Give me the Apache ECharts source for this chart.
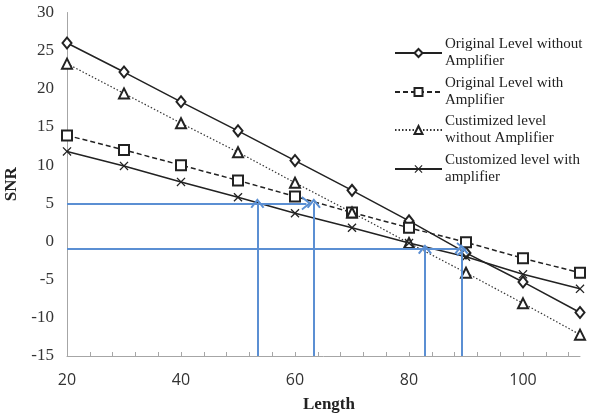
<!DOCTYPE html>
<html>
<head>
<meta charset="utf-8">
<script src="https://cdn.jsdelivr.net/npm/echarts@6/dist/echarts.min.js"></script>
<style>
  html, body { margin: 0; padding: 0; background: #fff; }
  #main { width: 591px; height: 414px; }
</style>
</head>
<body>
<div id="main"></div>
<script>
// lengths on the x axis
var lengths = [20, 30, 40, 50, 60, 70, 80, 90, 100, 110];

// SNR per series
var origNoAmp   = [26.0, 22.2, 18.3, 14.5, 10.6, 6.7, 2.7, -1.5, -5.3, -9.3];
var origAmp     = [13.9, 12.0, 10.0, 8.0, 5.9, 3.8, 1.8, -0.1, -2.2, -4.1];
var custNoAmp   = [23.3, 19.4, 15.5, 11.7, 7.7, 3.8, -0.2, -4.1, -8.1, -12.2];
var custAmp     = [11.8, 9.9, 7.8, 5.8, 3.7, 1.8, -0.2, -2.0, -4.3, -6.2];

var seriesNames = [
  'Original Level without\nAmplifier',
  'Original Level with\nAmplifier',
  'Custimized level\nwithout Amplifier',
  'Customized level with\namplifier'
];

// blue guide arrows: SNR levels and the lengths where they cross
var guideLevels = [5, -1];
var guideEnds = [62.0, 89.2];           // where the horizontal arrows stop
var crossAt5 = [53.4, 63.3];
var crossAtMinus1 = [82.8, 89.2];
var yBottom = -15;

function pairs(ys) {
  return lengths.map(function (x, i) { return [x, ys[i]]; });
}

// open "V" arrow head, pointing up
var chevron = 'path://M0,7 L6,0 L12,7 L10.6,7.8 L6,2.6 L1.4,7.8 Z';
var crossPath = 'path://M0,1 L1,0 L5,4 L9,0 L10,1 L6,5 L10,9 L9,10 L5,6 L1,10 L0,9 L4,5 Z';

var guideData = [];
guideLevels.forEach(function (lv, i) {
  guideData.push([{ coord: [20, lv] }, { coord: [guideEnds[i], lv] }]);
});
crossAt5.forEach(function (x) {
  guideData.push([{ coord: [x, yBottom] }, { coord: [x, guideLevels[0]] }]);
});
crossAtMinus1.forEach(function (x) {
  guideData.push([{ coord: [x, yBottom] }, { coord: [x, guideLevels[1]] }]);
});

var myChart = echarts.init(document.getElementById('main'));

function legendAt(name, top) {
  return {
    data: [name],
    left: 394,
    top: top,
    orient: 'vertical',
    itemWidth: 47,
    itemHeight: 10,
    itemGap: 0,
    padding: 0,
    selectedMode: false,
    textStyle: {
      fontFamily: 'Liberation Serif',
      fontSize: 15,
      color: '#222',
      lineHeight: 17,
      padding: [16, 0, 0, -2]
    }
  };
}

var lineBase = {
  type: 'line',
  color: '#222',
  symbolSize: 9,
  itemStyle: { color: '#222', borderWidth: 1.4 },
  z: 3
};

var option = {
  animation: false,
  backgroundColor: '#fff',
  grid: { left: 67, right: 11, top: 12.5, bottom: 58, containLabel: false, outerBoundsMode: 'none' },
  legend: [
    legendAt(seriesNames[0], 28),
    legendAt(seriesNames[1], 67),
    legendAt(seriesNames[2], 105),
    legendAt(seriesNames[3], 144)
  ],
  xAxis: {
    type: 'value',
    min: 20,
    max: 110,
    interval: 4,
    name: 'Length',
    nameLocation: 'middle',
    nameGap: 40,
    nameTextStyle: { fontFamily: 'Liberation Serif', fontWeight: 'bold', fontSize: 17, color: '#222', padding: [0, 0, 0, 11] },
    axisLine: { onZero: false, lineStyle: { color: '#a6a6a6' } },
    axisTick: { inside: true, length: 4, lineStyle: { color: '#a6a6a6' } },
    splitLine: { show: false },
    axisLabel: {
      margin: 16,
      fontFamily: 'Open Sans',
      fontSize: 16,
      color: '#333',
      showMaxLabel: false,
      formatter: function (v) {
        return ((v - 20) % 20 === 0 && v <= 100) ? String(v) : '';
      }
    }
  },
  yAxis: {
    type: 'value',
    min: -15,
    max: 30,
    interval: 5,
    name: 'SNR',
    nameLocation: 'middle',
    nameGap: 41,
    nameTextStyle: { fontFamily: 'Liberation Serif', fontWeight: 'bold', fontSize: 17, color: '#222' },
    axisLine: { show: true, lineStyle: { color: '#a6a6a6' } },
    axisTick: { show: false },
    splitLine: { show: false },
    axisLabel: { margin: 13, fontFamily: 'Liberation Serif', fontSize: 17, color: '#333' }
  },
  series: [
    Object.assign({}, lineBase, {
      name: seriesNames[0],
      data: pairs(origNoAmp),
      symbol: 'emptyDiamond',
      symbolSize: [9, 11],
      lineStyle: { color: '#222', width: 1.5, type: 'solid' }
    }),
    Object.assign({}, lineBase, {
      name: seriesNames[1],
      data: pairs(origAmp),
      symbol: 'emptyRect',
      symbolSize: 10,
      lineStyle: { color: '#222', width: 1.5, type: [5, 3] }
    }),
    Object.assign({}, lineBase, {
      name: seriesNames[2],
      data: pairs(custNoAmp),
      symbol: 'emptyTriangle',
      symbolSize: 10,
      lineStyle: { color: '#333', width: 1.2, type: [1.5, 2] }
    }),
    Object.assign({}, lineBase, {
      name: seriesNames[3],
      data: pairs(custAmp),
      symbol: crossPath,
      symbolSize: 9,
      itemStyle: { color: '#222', borderWidth: 0 },
      lineStyle: { color: '#222', width: 1.5, type: 'solid' }
    }),
    {
      name: 'guides',
      type: 'line',
      data: [],
      z: 4,
      markLine: {
        silent: true,
        animation: false,
        symbol: ['none', chevron],
        symbolSize: [14, 10],
        label: { show: false },
        lineStyle: { color: '#5b8fd3', width: 2, type: 'solid' },
        data: guideData
      }
    }
  ]
};

myChart.setOption(option);
</script>
</body>
</html>
